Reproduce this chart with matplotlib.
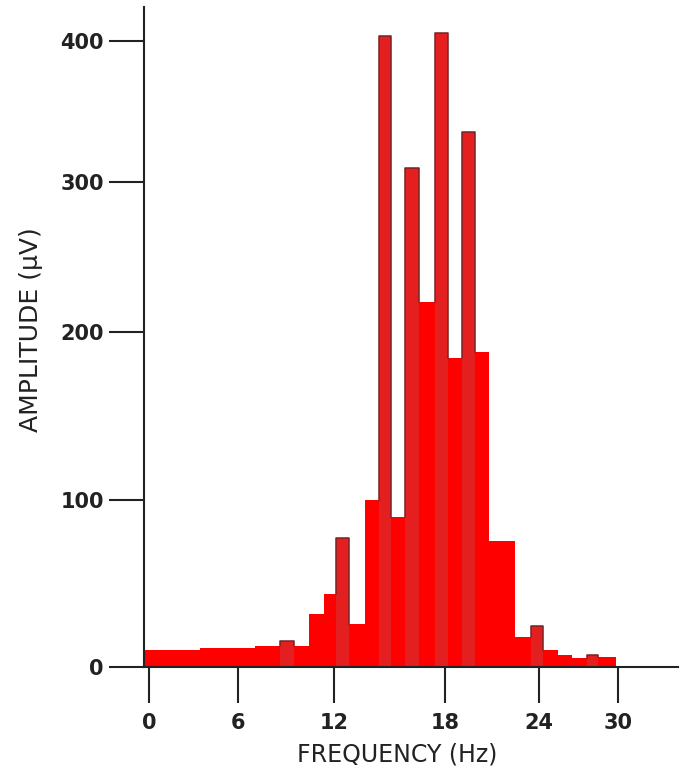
import numpy as np
import matplotlib.pyplot as plt

# bin edges (Hz) and amplitude (uV)
freq_edges = [-0.25, 3.44, 7.06, 8.63, 9.5, 10.44, 11.38, 12.11, 12.81, 13.68,
              14.43, 15.08, 15.84, 16.59, 17.46, 18.19, 19.09, 19.91, 20.81,
              22.47, 23.49, 24.3, 25.44, 26.51, 27.65, 28.48, 29.85]
amplitude = [10.2, 11.4, 12.6, 15.6, 12.6, 31.7, 43.7, 77.2, 25.7, 100,
             403.5, 89.8, 309.9, 220, 405.7, 184.5, 335.5, 188.1, 75.4,
             18.0, 24.6, 10.2, 7.2, 5.4, 7.2, 6.0]

x_ticks = [0, 6, 12, 18, 24, 30]
y_ticks = [0, 100, 200, 300, 400]

# the original axes are not evenly spaced, calibrate tick spacing
x_tick_space = [0, 89, 185, 296, 390, 469]
y_tick_space = [0, 167, 335, 485, 626]


def make_scale(vals, pos):
    vals = np.asarray(vals, float)
    pos = np.asarray(pos, float)
    v = np.r_[vals[0] - (vals[1] - vals[0]) * 10, vals, vals[-1] + (vals[-1] - vals[-2]) * 10]
    p = np.r_[pos[0] - (pos[1] - pos[0]) * 10, pos, pos[-1] + (pos[-1] - pos[-2]) * 10]
    return (lambda a: np.interp(a, v, p)), (lambda a: np.interp(a, p, v))


plt.rcParams['font.family'] = ['DejaVu Sans']

fig = plt.figure(figsize=(6.85, 7.79), dpi=100)
ax = fig.add_axes([144 / 685, 112 / 779, 534 / 685, 660 / 779])

ax.set_xscale('function', functions=make_scale(x_ticks, x_tick_space))
ax.set_yscale('function', functions=make_scale(y_ticks, y_tick_space))

edges = np.array(freq_edges)
amp = np.array(amplitude)

ax.stairs(amp, edges, baseline=0, fill=True, color='#ff0000', zorder=2)

# narrow spikes are a bit darker with a dark outline
for i in range(1, len(amp) - 1):
    if amp[i] > amp[i - 1] and amp[i] > amp[i + 1]:
        ax.bar(edges[i], amp[i], width=edges[i + 1] - edges[i], align='edge',
               color='#e41f1f', linewidth=0, zorder=3)
        ax.plot([edges[i], edges[i], edges[i + 1], edges[i + 1]],
                [amp[i - 1], amp[i], amp[i], amp[i + 1]],
                color='#7a2222', lw=1.1, zorder=4)

ax.set_xlim(-0.337, 34.56)
ax.set_ylim(0, 424)

ax.spines['top'].set_visible(False)
ax.spines['right'].set_visible(False)
for s in ['left', 'bottom']:
    ax.spines[s].set_linewidth(1.5)
    ax.spines[s].set_color('#222222')
    ax.spines[s].set_zorder(5)

ax.set_xticks(x_ticks)
ax.set_xticklabels([str(t) for t in x_ticks])
ax.set_yticks(y_ticks)
ax.set_yticklabels([str(t) for t in y_ticks])
ax.minorticks_off()

ax.tick_params(axis='x', direction='out', length=26, width=1.5, pad=7,
               colors='#222222', labelsize=15)
ax.tick_params(axis='y', direction='out', length=25, width=1.5, pad=4,
               colors='#222222', labelsize=15)
for lab in ax.get_xticklabels() + ax.get_yticklabels():
    lab.set_fontweight('bold')

ax.set_xlabel('FREQUENCY (Hz)', fontsize=17, color='#222222')
ax.xaxis.set_label_coords(0.474, -0.114)
ax.set_ylabel('AMPLITUDE (μV)', fontsize=18, color='#222222')
ax.yaxis.set_label_coords(-0.19, 0.511)

fig.savefig('out.png', dpi=100)
